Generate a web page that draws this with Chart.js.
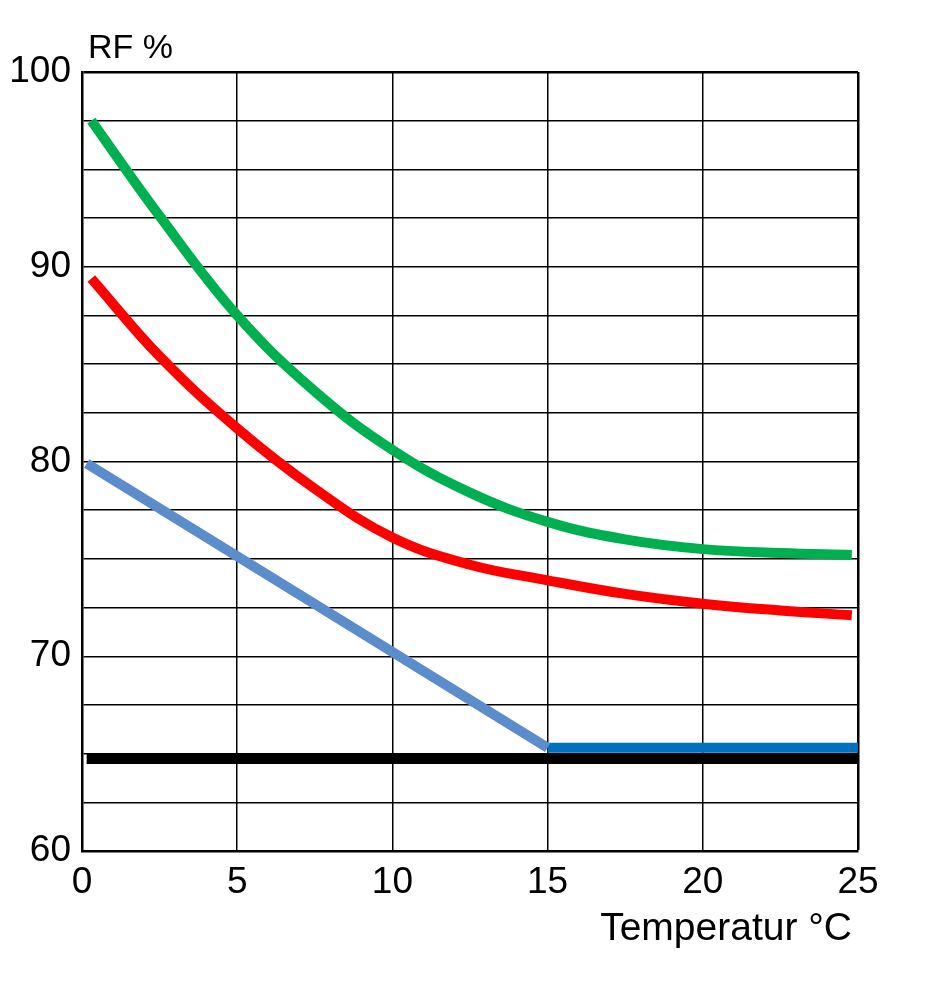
<!DOCTYPE html>
<html>
<head>
<meta charset="utf-8">
<script src="https://cdn.jsdelivr.net/npm/chart.js@4"></script>
<style>
  body { margin: 0; background: #fff; }
  #wrap { width: 943px; height: 1000px; }
</style>
</head>
<body>
<div id="wrap"><canvas id="rf_chart"></canvas></div>
<script>
const curveTemps = [0.3, 2.5, 5, 7.5, 10, 12.5, 15, 17.5, 20, 22.5, 24.8];
const greenRF = [97.5, 92.6, 87.5, 83.6, 80.6, 78.4, 76.9, 76.0, 75.5, 75.3, 75.2];
const redRF = [89.4, 85.4, 81.7, 78.6, 76.1, 74.7, 73.9, 73.2, 72.7, 72.35, 72.1];
const blueSlopeTemps = [0.15, 15];
const blueSlopeRF = [79.9, 65.3];
const blueFlatTemps = [15, 25];
const blueFlatRF = [65.3, 65.3];
const blackTemps = [0.15, 25];
const blackRF = [64.75, 64.75];
const xTicks = [0, 5, 10, 15, 20, 25];
const yTicks = [60, 70, 80, 90, 100];

const ctx = document.getElementById('rf_chart');

function toPoints(xs, ys) {
    return xs.map((x, i) => ({ x: x, y: ys[i] }));
}

function line(label, xs, ys, color, width) {
    return {
        label: label,
        data: toPoints(xs, ys),
        borderColor: color,
        backgroundColor: color,
        borderWidth: width,
        pointRadius: 0,
        tension: 0.4,
        borderCapStyle: 'butt',
        clip: false,
        fill: false
    };
}

const axisTitles = {
    id: 'axisTitles',
    afterDraw(chart) {
        const c = chart.ctx;
        const a = chart.chartArea;
        c.save();
        c.fillStyle = '#000';
        c.font = '34px "Liberation Sans", Arial, sans-serif';
        c.textAlign = 'left';
        c.textBaseline = 'alphabetic';
        c.fillText('RF %', a.left + 6, a.top - 14);
        c.font = '39px "Liberation Sans", Arial, sans-serif';
        c.textAlign = 'right';
        c.fillText('Temperatur °C', a.right - 6, a.bottom + 89);
        c.restore();
    }
};

let chart = new Chart(ctx, {
    type: 'line',
    data: {
        datasets: [
            line('RF 1', curveTemps, greenRF, '#00b050', 10),
            line('RF 2', curveTemps, redRF, '#ff0000', 10),
            line('RF 3', blueSlopeTemps, blueSlopeRF, '#5b8ccc', 10),
            line('RF 4', blueFlatTemps, blueFlatRF, '#0070c0', 10),
            line('RF 5', blackTemps, blackRF, '#000000', 11)
        ]
    },
    options: {
        responsive: true,
        maintainAspectRatio: false,
        animation: false,
        layout: { padding: { left: 0, top: 72, right: 85, bottom: 89 } },
        plugins: {
            legend: { display: false },
            tooltip: { enabled: false }
        },
        scales: {
            x: {
                type: 'linear',
                min: 0,
                max: 25,
                afterBuildTicks: s => { s.ticks = xTicks.map(v => ({ value: v })); },
                afterFit: s => { s.height = 60; },
                grid: {
                    color: '#000',
                    lineWidth: c => (c.tick && c.tick.value === 25 ? 2.5 : 1.5),
                    drawTicks: false
                },
                border: { color: '#000', width: 2.5 },
                ticks: {
                    color: '#000',
                    padding: 10,
                    maxRotation: 0,
                    autoSkip: false,
                    font: { family: '"Liberation Sans", Arial, sans-serif', size: 37 }
                }
            },
            y: {
                min: 60,
                max: 100,
                afterFit: s => { s.width = 82; },
                grid: {
                    color: '#000',
                    lineWidth: c => (c.tick && c.tick.value === 100 ? 2.5 : 1.5),
                    drawTicks: false
                },
                border: { color: '#000', width: 2.5 },
                ticks: {
                    stepSize: 2.5,
                    autoSkip: false,
                    color: '#000',
                    padding: 11,
                    font: { family: '"Liberation Sans", Arial, sans-serif', size: 37 },
                    callback: v => (yTicks.includes(v) ? v : '')
                }
            }
        }
    },
    plugins: [axisTitles]
});
</script>
</body>
</html>
